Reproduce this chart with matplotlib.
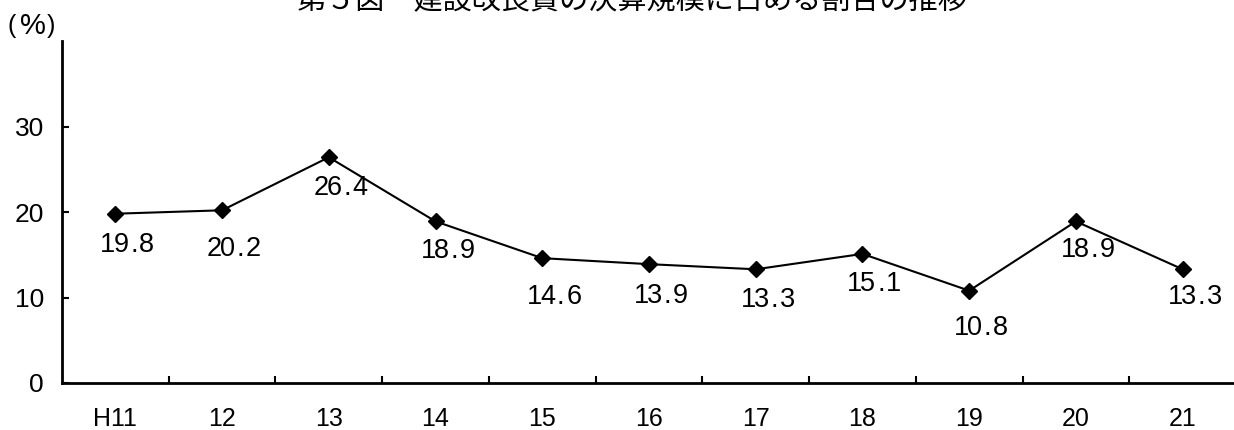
import matplotlib
matplotlib.use("Agg")
import matplotlib.pyplot as plt
from matplotlib.ticker import FixedLocator, NullFormatter

# Fiscal years (Heisei) and share of construction/improvement costs in total settlement (%)
years = ["H11", "12", "13", "14", "15", "16", "17", "18", "19", "20", "21"]
share = [19.8, 20.2, 26.4, 18.9, 14.6, 13.9, 13.3, 15.1, 10.8, 18.9, 13.3]
y_ticks = [0, 10, 20, 30]

# vertical drop of each value label below its marker, in pixels
label_drop_px = [31, 39, 31, 30, 39, 32, 31, 30, 37, 29, 28]

DPI = 100
fig = plt.figure(figsize=(12.34, 4.30), dpi=DPI)
px = 72.0 / DPI  # points per pixel

ax = fig.add_axes([62 / 1234, 1 - 383 / 430, 1174 / 1234, 342 / 430])

xs = list(range(len(years)))
ax.plot(xs, share, color="black", linewidth=1.5, marker="D", markersize=8,
        markerfacecolor="black", markeredgecolor="black", clip_on=False, zorder=3)

# value labels drawn on a fixed character grid (half-width monospaced look)
cell = 13 * px
for x, v, d in zip(xs, share, label_drop_px):
    s = f"{v:.1f}"
    n = len(s)
    for i, ch in enumerate(s):
        ax.annotate(ch, (x, v), xytext=(12 * px + (i - (n - 1) / 2) * cell, -d * px),
                    textcoords="offset points", ha="center", va="center",
                    fontsize=19.5, family="Liberation Sans", color="black")

ax.set_xlim(-0.5, len(years) - 0.5)
ax.set_ylim(0, 40)

ax.set_xticks(xs)
ax.set_xticklabels(years, fontsize=18, family="Liberation Sans")
ax.xaxis.set_minor_locator(FixedLocator([i + 0.5 for i in range(len(years))]))
ax.xaxis.set_minor_formatter(NullFormatter())
ax.tick_params(axis="x", which="major", length=0, pad=17)
ax.tick_params(axis="x", which="minor", direction="in", length=7 * px, width=1.5)

ax.set_yticks(y_ticks)
ax.set_yticklabels([str(t) for t in y_ticks], fontsize=19, family="Liberation Sans")
ax.tick_params(axis="y", direction="in", length=7 * px, width=1.5, pad=13)

for side in ("top", "right"):
    ax.spines[side].set_visible(False)
for side in ("left", "bottom"):
    ax.spines[side].set_linewidth(2)

# unit label "(%)" with loose spacing between the brackets and the sign
for ch, cx, fs in (("(", 12, 18), ("%", 33, 21), (")", 51, 18)):
    fig.text(cx / 1234, 1 - 26 / 430, ch, ha="center", va="center", fontsize=fs,
             family="Liberation Sans")

fig.text(632 / 1234, 1 - 1 / 430, "第５図　建設改良費の決算規模に占める割合の推移",
         ha="center", va="center", fontsize=21,
         family=["Noto Sans CJK JP", "DejaVu Sans"])

fig.savefig("out.png", dpi=DPI)
